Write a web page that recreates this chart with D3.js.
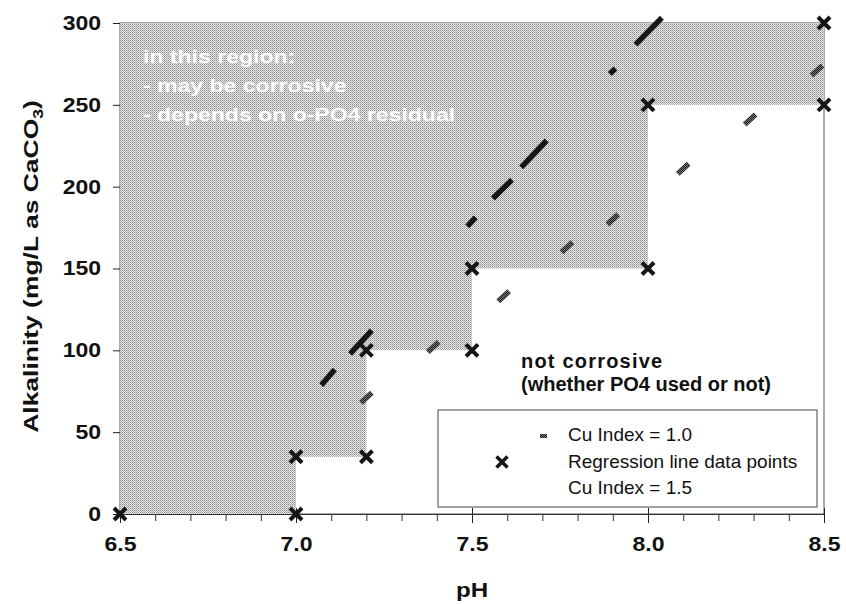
<!DOCTYPE html>
<meta charset="utf-8">
<style>
body { margin: 0; background: #fff; }
text { font-family: "Liberation Sans", Arial, sans-serif; }
</style>
<body>
<svg width="846" height="604"></svg>
<script src="https://cdn.jsdelivr.net/npm/d3@7/dist/d3.min.js"></script>
<script>

// axis ticks
var phTicks = [6.5, 7.0, 7.5, 8.0, 8.5];
var alkTicks = [0, 50, 100, 150, 200, 250, 300];

// regression line data points (pH, alkalinity) - also the edge of the shaded region
var regPoints = [[6.5, 0], [7.0, 0], [7.0, 35], [7.2, 35], [7.2, 100], [7.5, 100],
                 [7.5, 150], [8.0, 150], [8.0, 250], [8.5, 250], [8.5, 300]];

// Cu Index = 1.0 dashes (centre of each dash)
var cu10 = [[7.2, 71], [7.39, 102], [7.59, 133], [7.77, 163], [7.9, 180],
            [8.1, 211], [8.29, 241], [8.48, 271]];

// Cu Index = 1.5 dashed line, the pieces that show
var cu15 = [[[7.077, 80], [7.105, 87]], [[7.159, 99], [7.21, 111]],
            [[7.492, 177], [7.505, 180]], [[7.565, 194], [7.608, 203]],
            [[7.645, 213], [7.707, 227]], [[7.897, 270], [7.902, 271]],
            [[7.97, 288], [8.034, 302]]];

var regionText = ["in this region:", "- may be corrosive", "- depends on o-PO4 residual"];
var safeText = ["not corrosive", "(whether PO4 used or not)"];
var legendText = ["Cu Index = 1.0", "Regression line data points", "Cu Index = 1.5"];

var svg = d3.select("svg");
var sx = 1.28;  // white notes are drawn wide
var tx = 1.15;  // tick labels

var x = d3.scaleLinear().domain([6.5, 8.5]).range([120, 824]);
var y = d3.scaleLinear().domain([0, 300]).range([514, 23]);

// patterns for the stipple look
var defs = svg.append("defs");
var pat = defs.append("pattern").attr("id", "stip")
    .attr("width", 2).attr("height", 2).attr("patternUnits", "userSpaceOnUse");
pat.append("rect").attr("width", 2).attr("height", 2).attr("fill", "#e8e8e8");
pat.append("rect").attr("width", 1).attr("height", 1).attr("fill", "#8a8a8a");
pat.append("rect").attr("x", 1).attr("y", 1).attr("width", 1).attr("height", 1).attr("fill", "#b4b4b4");

var pat2 = defs.append("pattern").attr("id", "darkstip")
    .attr("width", 2).attr("height", 2).attr("patternUnits", "userSpaceOnUse");
pat2.append("rect").attr("width", 2).attr("height", 2).attr("fill", "#7a7a7a");
pat2.append("rect").attr("width", 1).attr("height", 1).attr("fill", "#1a1a1a");
pat2.append("rect").attr("x", 1).attr("y", 1).attr("width", 1).attr("height", 1).attr("fill", "#1a1a1a");

// plot border
svg.append("rect")
    .attr("x", x(6.5)).attr("y", y(300))
    .attr("width", x(8.5) - x(6.5)).attr("height", y(0) - y(300))
    .attr("fill", "none").attr("stroke", "#555").attr("stroke-width", 1);

// x axis: major ticks cross the line, minor ones hang below
var xMinor = x.ticks(20).filter(function(d) { return phTicks.indexOf(+d.toFixed(1)) < 0; });
svg.append("g")
    .attr("transform", "translate(0," + y(0) + ")")
    .call(d3.axisBottom(x).tickValues(xMinor).tickSize(7).tickFormat(""))
    .call(function(g) { g.select(".domain").remove(); })
    .selectAll("line").attr("stroke", "#333");

var xAxis = svg.append("g")
    .attr("transform", "translate(0," + y(0) + ")")
    .call(d3.axisBottom(x).tickValues(phTicks).tickSize(9).tickSizeOuter(0)
      .tickFormat(d3.format(".1f")));
xAxis.select(".domain").attr("stroke", "#333");
xAxis.selectAll(".tick line").attr("y1", -6).attr("stroke", "#222");
xAxis.selectAll(".tick text")
    .attr("y", 23).attr("dy", "0.71em")
    .attr("transform", "scale(" + tx + ",1)")
    .attr("fill", "#111").attr("font-size", 20).attr("font-weight", "bold");

var yAxis = svg.append("g")
    .attr("transform", "translate(" + x(6.5) + ",0)")
    .call(d3.axisLeft(y).tickValues(alkTicks).tickSize(7).tickSizeOuter(0));
yAxis.select(".domain").attr("stroke", "#333");
yAxis.selectAll(".tick line").attr("stroke", "#222");
yAxis.selectAll(".tick text")
    .attr("x", -19 / tx)
    .attr("transform", "scale(" + tx + ",1)")
    .attr("fill", "#111").attr("font-size", 20).attr("font-weight", "bold");

// axis titles
svg.append("text")
    .attr("transform", "translate(" + x(7.5) + ",597) scale(" + tx + ",1)")
    .attr("text-anchor", "middle").attr("font-size", 21).attr("font-weight", "bold")
    .attr("fill", "#111").text("pH");

var yt = svg.append("text")
    .attr("transform", "translate(38," + (y(150) - 2) + ") rotate(-90) scale(1.26,1)")
    .attr("text-anchor", "middle").attr("font-size", 21).attr("font-weight", "bold")
    .attr("fill", "#111");
yt.append("tspan").text("Alkalinity (mg/L as CaCO");
yt.append("tspan").attr("font-size", 14).attr("dy", 5).text("3");
yt.append("tspan").attr("dy", -5).text(")");

// shaded (possibly corrosive) region
var area = [[6.5, 300]].concat(regPoints);
svg.append("path")
    .attr("d", d3.line().x(function(d) { return x(d[0]); }).y(function(d) { return y(d[1]); })(area) + "Z")
    .attr("fill", "url(#stip)");

// text inside the shaded region
svg.append("g").selectAll("text").data(regionText).enter().append("text")
    .attr("transform", function(d, i) { return "translate(143," + (63 + i * 29) + ") scale(" + sx + ",1)"; })
    .attr("font-size", 18).attr("font-weight", "bold").attr("fill", "#fff")
    .text(function(d) { return d; });

// Cu Index = 1.0 dashes
svg.append("g").selectAll("line").data(cu10).enter().append("line")
    .attr("x1", function(d) { return x(d[0]) - 5.5; })
    .attr("y1", function(d) { return y(d[1]) + 5; })
    .attr("x2", function(d) { return x(d[0]) + 5.5; })
    .attr("y2", function(d) { return y(d[1]) - 5; })
    .attr("stroke", "url(#darkstip)").attr("stroke-width", 5.5);

// Cu Index = 1.5 dashes
svg.append("g").selectAll("line").data(cu15).enter().append("line")
    .attr("x1", function(d) { return x(d[0][0]); })
    .attr("y1", function(d) { return y(d[0][1]); })
    .attr("x2", function(d) { return x(d[1][0]); })
    .attr("y2", function(d) { return y(d[1][1]); })
    .attr("stroke", "#161616").attr("stroke-width", 5.5).attr("stroke-linecap", "square");

// regression points as crosses
function cross(cx, cy, r) {
  return "M" + (cx - r) + "," + (cy - r) + "L" + (cx + r) + "," + (cy + r) +
         "M" + (cx - r) + "," + (cy + r) + "L" + (cx + r) + "," + (cy - r);
}
svg.append("g").selectAll("path").data(regPoints).enter().append("path")
    .attr("d", function(d) { return cross(x(d[0]), y(d[1]), 6); })
    .attr("stroke", "#151515").attr("stroke-width", 4).attr("fill", "none");

// not corrosive label
svg.append("g").selectAll("text").data(safeText).enter().append("text")
    .attr("x", 521).attr("y", function(d, i) { return 368 + i * 23; })
    .attr("font-size", 20).attr("font-weight", "bold").attr("fill", "#111")
    .attr("letter-spacing", function(d, i) { return i === 0 ? 1.2 : 0; })
    .text(function(d) { return d; });

// legend
var lg = svg.append("g");
lg.append("rect").attr("x", 438).attr("y", 410).attr("width", 379).attr("height", 97)
    .attr("fill", "#fff").attr("stroke", "#444").attr("stroke-width", 1);
lg.selectAll("text").data(legendText).enter().append("text")
    .attr("x", 568).attr("y", function(d, i) { return 441 + i * 26.5; })
    .attr("font-size", 19).attr("fill", "#111")
    .text(function(d) { return d; });
lg.append("line").attr("x1", 540).attr("x2", 547).attr("y1", 436).attr("y2", 436)
    .attr("stroke", "url(#darkstip)").attr("stroke-width", 4);
lg.append("path").attr("d", cross(502, 462, 5.5))
    .attr("stroke", "#151515").attr("stroke-width", 3.5).attr("fill", "none");

</script>
</body>
